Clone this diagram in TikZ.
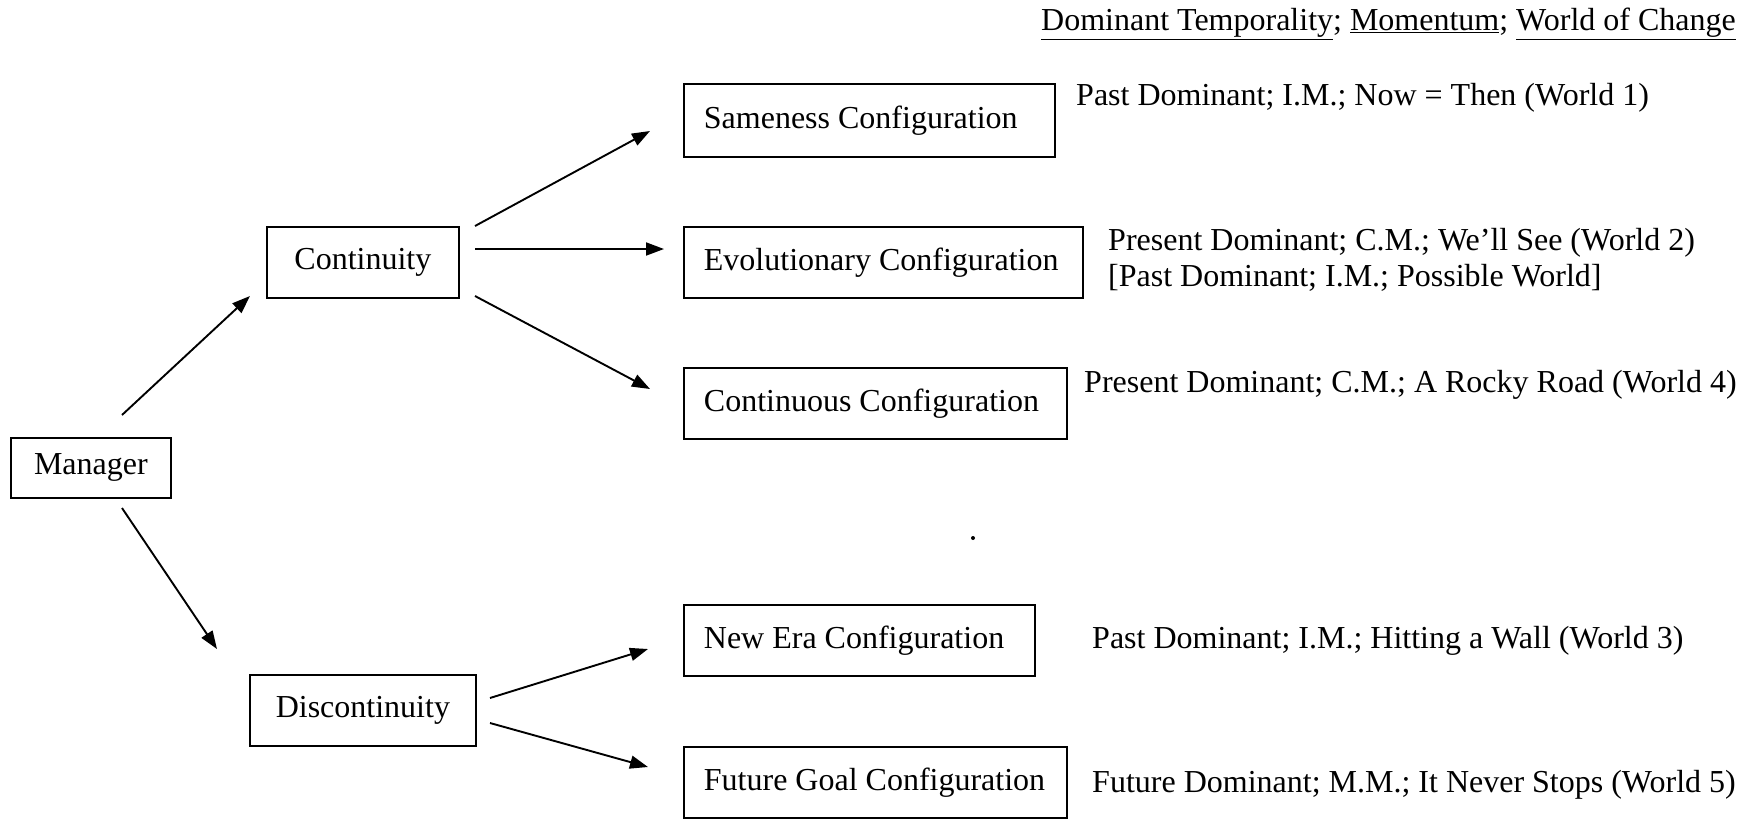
\documentclass[tikz,border=0pt]{standalone}
\usepackage{fontspec}
\setmainfont{Liberation Serif}
\usetikzlibrary{arrows.meta}
\newcommand{\cfgtext}[2]{\raisebox{3pt}{\makebox[#1][l]{#2}}}
\begin{document}
\begin{tikzpicture}[x=1pt,y=-1pt,
  every node/.style={font=\fontsize{32}{36}\selectfont},
  box/.style={draw, line width=1.8pt, inner sep=0pt, anchor=north west, align=center},
  cbox/.style={draw, line width=1.8pt, inner xsep=20pt, inner ysep=0pt, anchor=north west, minimum height=71pt},
  side/.style={anchor=west, inner sep=0pt, align=left},
  arr/.style={line width=1.9pt, -{Triangle[length=18pt,width=13pt]}}]
\useasboundingbox (0,0) rectangle (1743,823);

% header
\node[anchor=east, inner sep=0pt] (head) at (1736,24)
  {\underline{Dominant Temporality};\ \underline{Momentum};\ \underline{World of Change}};

% left boxes
\node[box, minimum width=160pt, minimum height=60pt] (manager) at (10,437) {Manager};
\node[box, minimum width=192pt, minimum height=71pt] (cont) at (266,226) {Continuity};
\node[box, minimum width=226pt, minimum height=71pt] (disc) at (249,674) {Discontinuity};

% configuration boxes
\node[cbox, minimum height=73pt] (same) at (683,83) {\cfgtext{331pt}{Sameness Configuration}};
\node[cbox] (evol) at (683,226) {\cfgtext{359pt}{Evolutionary Configuration}};
\node[cbox] (cnts) at (683,367) {\cfgtext{343pt}{Continuous Configuration}};
\node[cbox] (newera) at (683,604) {\cfgtext{311pt}{New Era Configuration}};
\node[cbox] (fut) at (683,746) {\cfgtext{343pt}{Future Goal Configuration}};

% side texts
\node[side] (w1) at (1076,98) {Past Dominant; I.M.; Now = Then (World 1)};
\node[side] (w2) at (1108,260) {Present Dominant; C.M.; We’ll See (World 2)\\\relax [Past Dominant; I.M.; Possible World]};
\node[side] (w4) at (1084,385) {Present Dominant; C.M.; A Rocky Road (World 4)};
\node[side] (w3) at (1092,641) {Past Dominant; I.M.; Hitting a Wall (World 3)};
\node[side] (w5) at (1092,785) {Future Dominant; M.M.; It Never Stops (World 5)};

% arrow end points
\coordinate (a1s) at (122,415); \coordinate (a1e) at (250,296);
\coordinate (a2s) at (122,508); \coordinate (a2e) at (217,649);
\coordinate (a3s) at (475,226); \coordinate (a3e) at (650,131);
\coordinate (a4s) at (475,249); \coordinate (a4e) at (664,249);
\coordinate (a5s) at (475,296); \coordinate (a5e) at (650,389);
\coordinate (a6s) at (490,698); \coordinate (a6e) at (648,649);
\coordinate (a7s) at (490,723); \coordinate (a7e) at (648,767);

\draw[arr] (a1s) -- (a1e);
\draw[arr] (a2s) -- (a2e);
\draw[arr] (a3s) -- (a3e);
\draw[arr] (a4s) -- (a4e);
\draw[arr] (a5s) -- (a5e);
\draw[arr] (a6s) -- (a6e);
\draw[arr] (a7s) -- (a7e);

% stray dot
\fill (973,538) circle (2pt);
\end{tikzpicture}
\end{document}
